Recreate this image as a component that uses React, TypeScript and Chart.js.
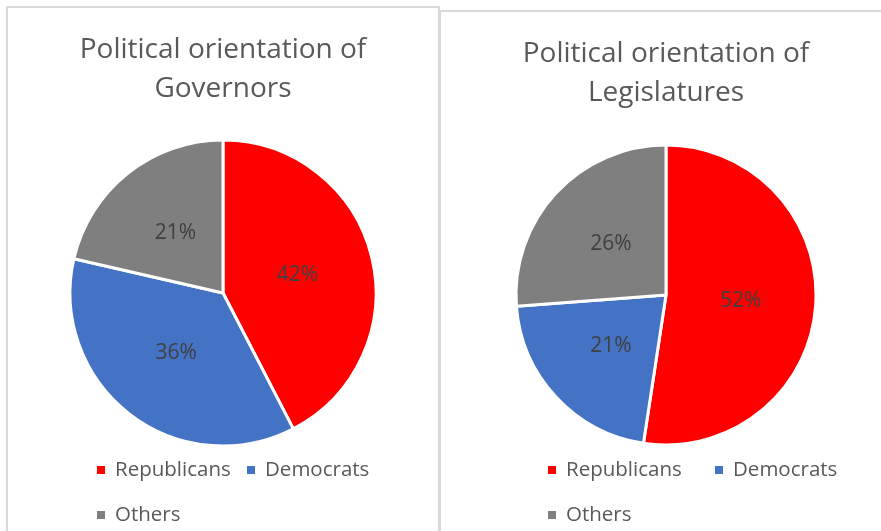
import React, { useEffect, useRef } from "react";
import { Chart, registerables } from "chart.js";

Chart.register(...registerables);

const categories = ["Republicans", "Democrats", "Others"];
const sliceColors = ["#FF0000", "#4472C4", "#7F7F7F"];
const governorsValues = [42.4, 36.2, 21.4];
const legislaturesValues = [52.4, 21.4, 26.2];
const governorsTitle = ["Political orientation of", "Governors"];
const legislaturesTitle = ["Political orientation of", "Legislatures"];

const FONT = '"Open Sans", "Noto Sans", sans-serif';

const pieLabelsPlugin = {
  id: "pieLabels",
  afterDatasetsDraw(chart: any) {
    const ctx = chart.ctx;
    const meta = chart.getDatasetMeta(0);
    const data = chart.data.datasets[0].data as number[];
    const total = data.reduce((a, b) => a + b, 0);
    ctx.save();
    ctx.font = `21px ${FONT}`;
    ctx.fillStyle = "#404040";
    ctx.textAlign = "center";
    ctx.textBaseline = "middle";
    meta.data.forEach((arc: any, i: number) => {
      const p = arc.tooltipPosition();
      ctx.fillText(Math.round((data[i] / total) * 100) + "%", p.x, p.y);
    });
    ctx.restore();
  },
};

const excelLegendPlugin = {
  id: "excelLegend",
  afterDraw(chart: any, _args: any, opts: any) {
    const ctx = chart.ctx;
    const labels = chart.data.labels as string[];
    const colors = chart.data.datasets[0].backgroundColor as string[];
    ctx.save();
    ctx.font = `20.5px ${FONT}`;
    ctx.textBaseline = "middle";
    ctx.textAlign = "left";
    labels.forEach((lab, i) => {
      const row = Math.floor(i / 2);
      const col = i % 2;
      const x = opts.startX + col * opts.colW;
      const y = opts.rowY[row];
      ctx.fillStyle = colors[i];
      ctx.fillRect(x, y - 4, 8, 8);
      ctx.fillStyle = "#595959";
      ctx.fillText(lab, x + 18, y);
    });
    ctx.restore();
  },
};

function PieChart(props: {
  values: number[];
  title: string[];
  width: number;
  height: number;
  padTop: number;
  padBottom: number;
  layoutBottom: number;
  legend: { startX: number; colW: number; rowY: number[] };
}) {
  const ref = useRef<HTMLCanvasElement | null>(null);
  useEffect(() => {
    if (!ref.current) return;
    const chart = new Chart(ref.current, {
      type: "pie",
      data: {
        labels: categories,
        datasets: [
          {
            data: props.values,
            backgroundColor: sliceColors,
            borderColor: "#FFFFFF",
            borderWidth: 3,
          },
        ],
      },
      options: {
        responsive: false,
        animation: false,
        layout: { padding: { bottom: props.layoutBottom } },
        plugins: {
          legend: { display: false },
          tooltip: { enabled: false },
          title: {
            display: true,
            text: props.title,
            color: "#595959",
            font: { family: FONT, size: 28, weight: "normal", lineHeight: 39 / 28 },
            padding: { top: props.padTop, bottom: props.padBottom },
          },
          excelLegend: props.legend,
        } as any,
      },
      plugins: [pieLabelsPlugin, excelLegendPlugin],
    });
    return () => chart.destroy();
  }, []);
  return (
    <canvas
      ref={ref}
      width={props.width}
      height={props.height}
      style={{ display: "block", width: props.width, height: props.height }}
    />
  );
}

export default function App() {
  return (
    <div
      style={{
        position: "fixed",
        left: 0,
        top: 0,
        width: 881,
        height: 531,
        overflow: "hidden",
        background: "#FFFFFF",
      }}
    >
      <div
        style={{
          position: "absolute",
          left: 6,
          top: 6,
          width: 430,
          height: 540,
          border: "2px solid #D9D9D9",
          background: "#FFFFFF",
        }}
      >
        <PieChart
          values={governorsValues}
          title={governorsTitle}
          width={430}
          height={540}
          padTop={22.5}
          padBottom={30}
          layoutBottom={100.5}
          legend={{ startX: 89, colW: 150, rowY: [462, 507] }}
        />
      </div>
      <div
        style={{
          position: "absolute",
          left: 439,
          top: 10,
          width: 450,
          height: 540,
          border: "2px solid #D9D9D9",
          background: "#FFFFFF",
        }}
      >
        <PieChart
          values={legislaturesValues}
          title={legislaturesTitle}
          width={450}
          height={540}
          padTop={22.5}
          padBottom={31}
          layoutBottom={105.5}
          legend={{ startX: 107, colW: 167, rowY: [458, 503] }}
        />
      </div>
    </div>
  );
}
